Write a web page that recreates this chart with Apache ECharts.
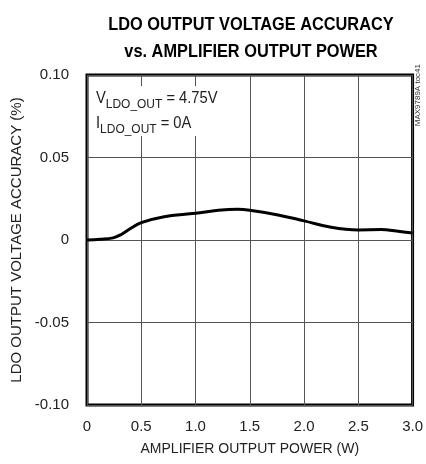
<!DOCTYPE html>
<html>
<head>
<meta charset="utf-8">
<script src="https://cdn.jsdelivr.net/npm/echarts@6/dist/echarts.min.js"></script>
<style>
  html, body { margin: 0; padding: 0; background: #fff; }
  #chart { width: 426px; height: 464px; }
</style>
</head>
<body>
<div id="chart"></div>
<script>
// output power (W) vs LDO output voltage accuracy (%)
const powerW = [0, 0.12, 0.24, 0.32, 0.39, 0.5, 0.7, 1.0, 1.21, 1.39, 1.5, 1.76, 2.0, 2.25, 2.5, 2.71, 2.85, 3.0]
const accuracy = [0, 0.0004, 0.0013, 0.0035, 0.0065, 0.0105, 0.014, 0.0162, 0.018, 0.0186, 0.018, 0.0152, 0.0116, 0.0077, 0.0061, 0.0063, 0.0055, 0.0042]
const xTicks = ['0', '0.5', '1.0', '1.5', '2.0', '2.5', '3.0']
const yTicks = ['-0.10', '-0.05', '0', '0.05', '0.10']

const font = '"Liberation Sans Narrow", "Arial Narrow", "Liberation Sans", sans-serif'

const chart = echarts.init(document.getElementById('chart'))
chart.setOption({
  animation: false,
  grid: {
    left: 87,
    right: 12,
    top: 75,
    bottom: 59,
    show: true,
    borderColor: '#000',
    borderWidth: 3,
  },
  xAxis: {
    type: 'value',
    min: 0,
    max: 3,
    interval: 0.5,
    name: 'AMPLIFIER OUTPUT POWER (W)',
    nameLocation: 'middle',
    nameGap: 37,
    nameTextStyle: { fontFamily: font, fontSize: 14, color: '#222' },
    axisLine: { show: false },
    axisTick: { show: false },
    axisLabel: {
      margin: 14,
      fontFamily: font,
      fontSize: 15,
      color: '#222',
      formatter: v => xTicks[Math.round(v / 0.5)],
    },
    splitLine: { lineStyle: { color: '#555', width: 1 } },
  },
  yAxis: {
    type: 'value',
    min: -0.1,
    max: 0.1,
    interval: 0.05,
    name: 'LDO OUTPUT VOLTAGE ACCURACY (%)',
    nameLocation: 'middle',
    nameGap: 58,
    nameTextStyle: { fontFamily: font, fontSize: 15, color: '#222' },
    axisLine: { show: false },
    axisTick: { show: false },
    axisLabel: {
      margin: 18,
      fontFamily: font,
      fontSize: 15,
      color: '#222',
      formatter: v => yTicks[Math.round((v + 0.1) / 0.05)],
    },
    splitLine: { lineStyle: { color: '#555', width: 1 } },
  },
  graphic: [
    {
      type: 'text',
      x: 251,
      y: 11,
      scaleX: 0.86,
      style: {
        text: 'LDO OUTPUT VOLTAGE ACCURACY\nvs. AMPLIFIER OUTPUT POWER',
        align: 'center',
        fontFamily: font,
        fontWeight: 'bold',
        fontSize: 19,
        lineHeight: 27,
        fill: '#000',
      },
    },
    {
      type: 'text',
      x: 96,
      y: 86,
      z: 100,
      scaleX: 0.92,
      style: {
        text: '{b|V}{s|LDO_OUT}{b| = 4.75V}\n{b|I}{s|LDO_OUT}{b| = 0A}',
        fontFamily: font,
        lineHeight: 25,
        backgroundColor: '#fff',
        fill: '#222',
        rich: {
          b: { fontFamily: font, fontSize: 16, fill: '#222', lineHeight: 25 },
          s: { fontFamily: font, fontSize: 13, fill: '#222', lineHeight: 25, verticalAlign: 'bottom' },
        },
      },
    },
    {
      type: 'text',
      left: 414,
      top: 64,
      rotation: Math.PI / 2,
      style: {
        text: 'MAX9789A toc41',
        fontFamily: font,
        fontSize: 8,
        fill: '#333',
      },
    },
  ],
  series: [
    {
      type: 'line',
      data: powerW.map((p, i) => [p, accuracy[i]]),
      smooth: 0.4,
      symbol: 'none',
      lineStyle: { color: '#000', width: 3 },
      z: 10,
    },
  ],
})
</script>
</body>
</html>
